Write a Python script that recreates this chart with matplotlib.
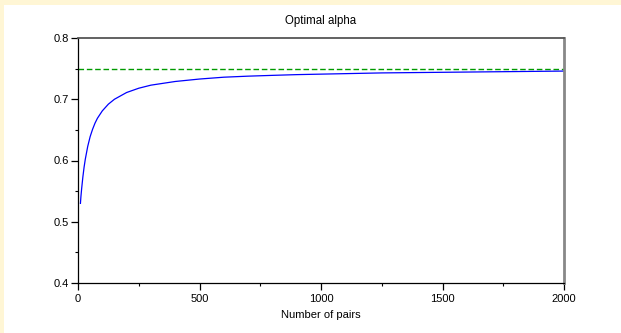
import matplotlib
matplotlib.use("Agg")
from matplotlib import pyplot as plt
from matplotlib.patches import Rectangle
from matplotlib.ticker import MultipleLocator

# valores
pares = [10, 12, 15, 20, 25, 30, 40, 50, 60, 70, 80, 100, 125, 150, 200, 250,
         300, 400, 500, 600, 700, 800, 900, 1000, 1250, 1500, 1750, 2000]
alpha = [0.530, 0.541, 0.554, 0.573, 0.589, 0.602, 0.623, 0.639, 0.651, 0.661,
         0.669, 0.681, 0.692, 0.700, 0.711, 0.718, 0.723, 0.729, 0.733, 0.736,
         0.7377, 0.739, 0.7402, 0.741, 0.743, 0.744, 0.745, 0.746]
asintota = 0.75

plt.rcParams['font.family'] = ['Liberation Sans', 'DejaVu Sans']

fig = plt.figure(figsize=(6.21, 3.33), dpi=100, facecolor='#fff6d5')
# fondo blanco del grafico sobre el borde crema
fig.patches.append(Rectangle((4 / 621, 0), 1, (333 - 5) / 333,
                             transform=fig.transFigure, facecolor='white',
                             edgecolor='none', zorder=-10))

ax = fig.add_axes([78 / 621, 50 / 333, 486 / 621, 245 / 333])

ax.plot([0, 2000], [asintota, asintota], color='#009a00', lw=1.0,
        dashes=(4, 2))
ax.plot(pares, alpha, color='#0000ff', lw=0.9)

ax.set_xlim(0, 2000)
ax.set_ylim(0.4, 0.8)
ax.xaxis.set_major_locator(MultipleLocator(500))
ax.xaxis.set_minor_locator(MultipleLocator(250))
ax.yaxis.set_major_locator(MultipleLocator(0.1))
ax.yaxis.set_minor_locator(MultipleLocator(0.05))

ax.tick_params(which='major', direction='out', length=5, width=0.9,
               labelsize=8, pad=1.5)
ax.tick_params(which='minor', direction='out', length=2, width=0.8)
ax.tick_params(axis='x', pad=3)

ax.spines['left'].set_linewidth(0.9)
ax.spines['bottom'].set_linewidth(0.9)
ax.spines['top'].set_color('#555555')
ax.spines['top'].set_linewidth(1.3)
ax.spines['right'].set_color('#888888')
ax.spines['right'].set_linewidth(2)

ax.set_title("Optimal alpha", fontsize=8.3, pad=10)
ax.set_xlabel("Number of pairs", fontsize=8, labelpad=4)

fig.savefig("out.png", dpi=100, facecolor=fig.get_facecolor())
